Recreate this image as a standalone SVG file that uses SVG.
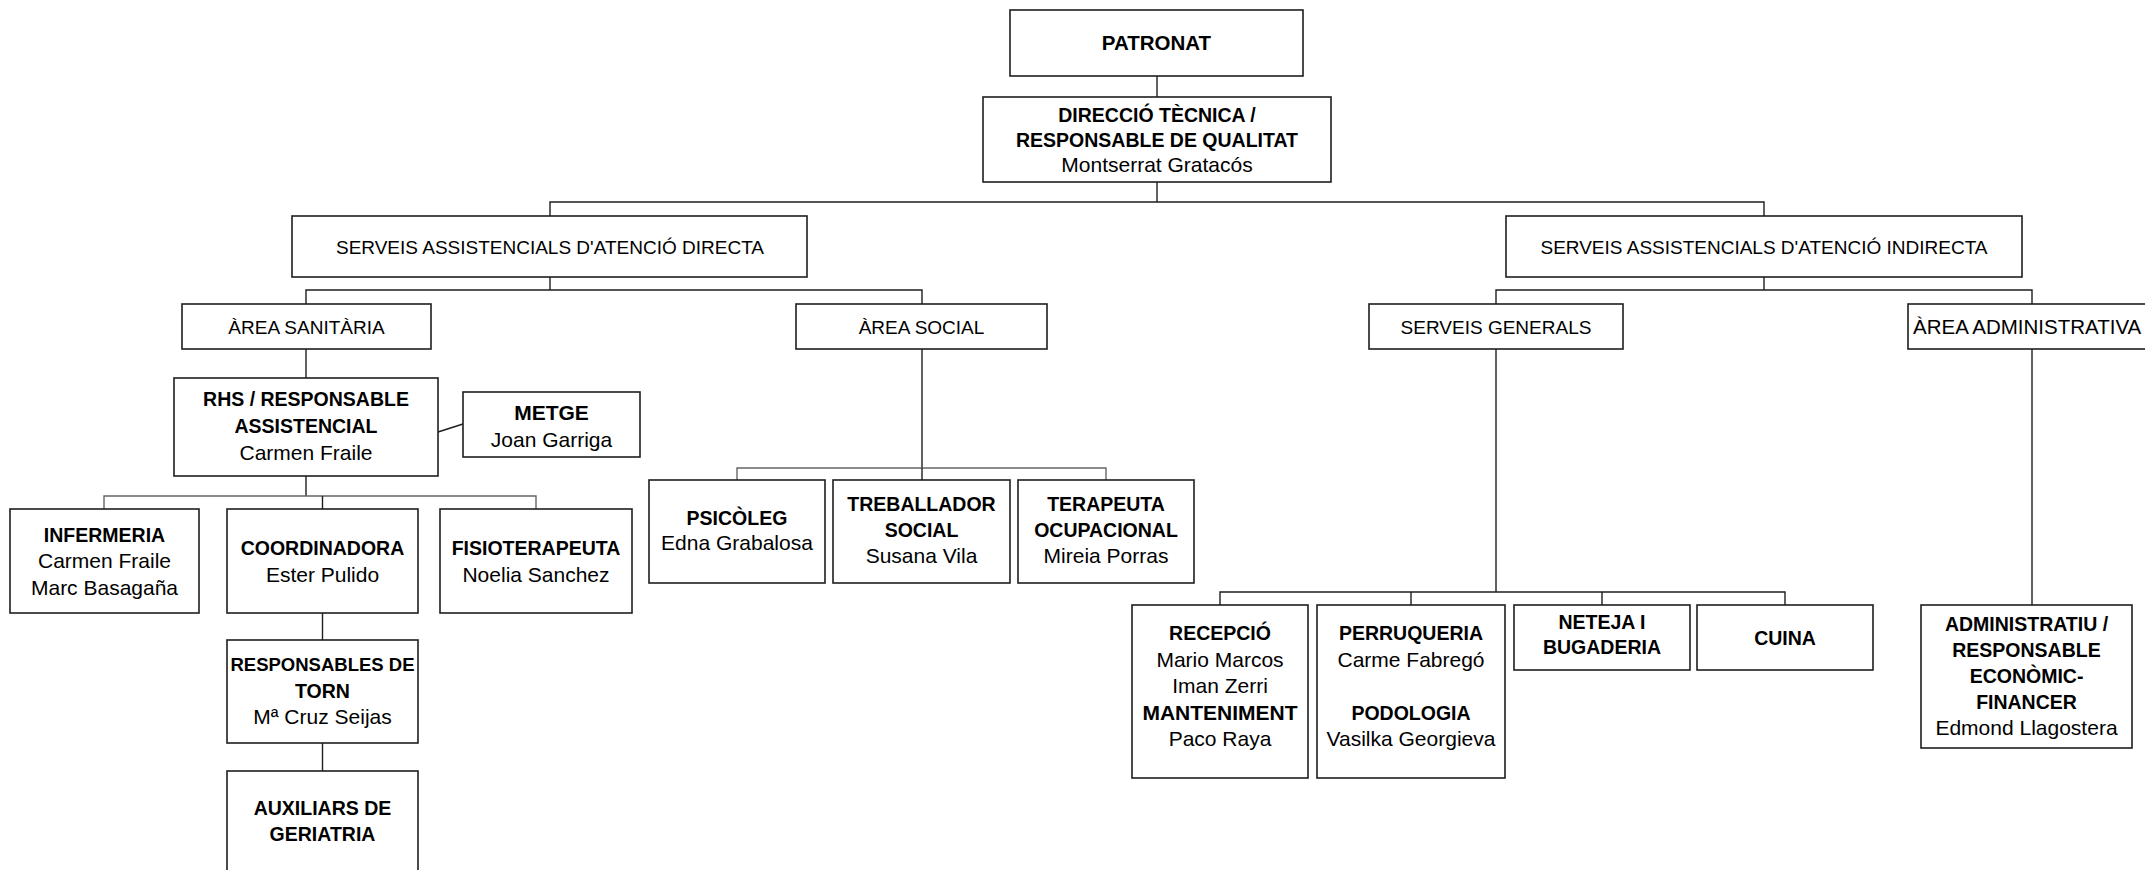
<svg xmlns="http://www.w3.org/2000/svg" width="2145" height="870" viewBox="0 0 2145 870">
<style>
.box{fill:#fff;stroke:#1e1e1e;stroke-width:1.6}
text{font-family:"Liberation Sans",Arial,sans-serif;font-size:21px;text-anchor:middle;fill:#000}
.b{font-weight:bold;font-size:19.5px}
.s{font-size:19px}
.conn path{fill:none;stroke:#1e1e1e;stroke-width:1.4}
.conn path.g{stroke:#666}
</style>
<rect width="2145" height="870" fill="#fff"/>
<g class="conn" id="connectors">
<path d="M1157,76 V97"/>
<path d="M1157,182 V202"/>
<path d="M550,216 V202 H1764 V216"/>
<path d="M550,277 V290"/>
<path d="M306,304 V290 H922 V304"/>
<path d="M1764,277 V290"/>
<path d="M1496,304 V290 H2032 V304"/>
<path d="M306,349 V378"/>
<path d="M438,432 L463,424"/>
<path d="M306,476 V496"/>
<path class="g" d="M104,509 V496 H536 V509"/>
<path d="M322.5,496 V509"/>
<path d="M322.5,613 V640"/>
<path d="M322.5,743 V771"/>
<path d="M922,349 V468"/>
<path class="g" d="M737,480 V468 H1106 V480"/>
<path d="M922,468 V480"/>
<path d="M1496,349 V592"/>
<path d="M1220,605 V592 H1785 V605"/>
<path d="M1411,592 V605"/>
<path d="M1602,592 V605"/>
<path d="M2032,349 V605"/>
</g>
<g id="patronat"><rect class="box" x="1010" y="10" width="293" height="66"/><text class="b" x="1156.5" y="50" style="font-size:20.5px">PATRONAT</text></g>
<g id="direccio"><rect class="box" x="983" y="97" width="348" height="85"/>
<text class="b" x="1157" y="122">DIRECCIÓ TÈCNICA /</text>
<text class="b" x="1157" y="147">RESPONSABLE DE QUALITAT</text>
<text x="1157" y="172">Montserrat Gratacós</text></g>
<g id="directa"><rect class="box" x="292" y="216" width="515" height="61"/><text class="s" x="550" y="254">SERVEIS ASSISTENCIALS D'ATENCIÓ DIRECTA</text></g>
<g id="indirecta"><rect class="box" x="1506" y="216" width="516" height="61"/><text class="s" x="1764" y="254">SERVEIS ASSISTENCIALS D'ATENCIÓ INDIRECTA</text></g>
<g id="sanitaria"><rect class="box" x="182" y="304" width="249" height="45"/><text class="s" x="306.5" y="334">ÀREA SANITÀRIA</text></g>
<g id="social"><rect class="box" x="796" y="304" width="251" height="45"/><text class="s" x="921.5" y="334">ÀREA SOCIAL</text></g>
<g id="generals"><rect class="box" x="1369" y="304" width="254" height="45"/><text class="s" x="1496" y="334">SERVEIS GENERALS</text></g>
<g id="administrativa"><rect class="box" x="1908" y="304" width="260" height="45"/><text class="s" x="1913" y="334" style="text-anchor:start;font-size:20.5px">ÀREA ADMINISTRATIVA</text></g>
<g id="rhs"><rect class="box" x="174" y="378" width="264" height="98"/>
<text class="b" x="306" y="406">RHS / RESPONSABLE</text>
<text class="b" x="306" y="433">ASSISTENCIAL</text>
<text x="306" y="460">Carmen Fraile</text></g>
<g id="metge"><rect class="box" x="463" y="392" width="177" height="65"/>
<text class="b" x="551.5" y="420" style="font-size:21px">METGE</text>
<text x="551.5" y="447">Joan Garriga</text></g>
<g id="infermeria"><rect class="box" x="10" y="509" width="189" height="104"/>
<text class="b" x="104.5" y="542">INFERMERIA</text>
<text x="104.5" y="568">Carmen Fraile</text>
<text x="104.5" y="595">Marc Basagaña</text></g>
<g id="coordinadora"><rect class="box" x="227" y="509" width="191" height="104"/>
<text class="b" x="322.5" y="555">COORDINADORA</text>
<text x="322.5" y="582">Ester Pulido</text></g>
<g id="fisioterapeuta"><rect class="box" x="440" y="509" width="192" height="104"/>
<text class="b" x="536" y="555">FISIOTERAPEUTA</text>
<text x="536" y="582">Noelia Sanchez</text></g>
<g id="torn"><rect class="box" x="227" y="640" width="191" height="103"/>
<text class="b" x="322.5" y="671" style="font-size:18.5px">RESPONSABLES DE</text>
<text class="b" x="322.5" y="698">TORN</text>
<text x="322.5" y="724">Mª Cruz Seijas</text></g>
<g id="auxiliars"><rect class="box" x="227" y="771" width="191" height="120"/>
<text class="b" x="322.5" y="815">AUXILIARS DE</text>
<text class="b" x="322.5" y="841">GERIATRIA</text></g>
<g id="psicoleg"><rect class="box" x="649" y="480" width="176" height="103"/>
<text class="b" x="737" y="525">PSICÒLEG</text>
<text x="737" y="550">Edna Grabalosa</text></g>
<g id="treballador"><rect class="box" x="833" y="480" width="177" height="103"/>
<text class="b" x="921.5" y="511">TREBALLADOR</text>
<text class="b" x="921.5" y="537">SOCIAL</text>
<text x="921.5" y="563">Susana Vila</text></g>
<g id="terapeuta"><rect class="box" x="1018" y="480" width="176" height="103"/>
<text class="b" x="1106" y="511">TERAPEUTA</text>
<text class="b" x="1106" y="537">OCUPACIONAL</text>
<text x="1106" y="563">Mireia Porras</text></g>
<g id="recepcio"><rect class="box" x="1132" y="605" width="176" height="173"/>
<text class="b" x="1220" y="640">RECEPCIÓ</text>
<text x="1220" y="667">Mario Marcos</text>
<text x="1220" y="693">Iman Zerri</text>
<text class="b" x="1220" y="720" style="font-size:21px">MANTENIMENT</text>
<text x="1220" y="746">Paco Raya</text></g>
<g id="perruqueria"><rect class="box" x="1317" y="605" width="188" height="173"/>
<text class="b" x="1411" y="640">PERRUQUERIA</text>
<text x="1411" y="667">Carme Fabregó</text>
<text class="b" x="1411" y="720">PODOLOGIA</text>
<text x="1411" y="746">Vasilka Georgieva</text></g>
<g id="neteja"><rect class="box" x="1514" y="605" width="176" height="65"/>
<text class="b" x="1602" y="629">NETEJA I</text>
<text class="b" x="1602" y="654">BUGADERIA</text></g>
<g id="cuina"><rect class="box" x="1697" y="605" width="176" height="65"/>
<text class="b" x="1785" y="645">CUINA</text></g>
<g id="administratiu"><rect class="box" x="1921" y="605" width="211" height="143"/>
<text class="b" x="2026.5" y="631">ADMINISTRATIU /</text>
<text class="b" x="2026.5" y="657">RESPONSABLE</text>
<text class="b" x="2026.5" y="683">ECONÒMIC-</text>
<text class="b" x="2026.5" y="709">FINANCER</text>
<text x="2026.5" y="735">Edmond Llagostera</text></g>
</svg>
